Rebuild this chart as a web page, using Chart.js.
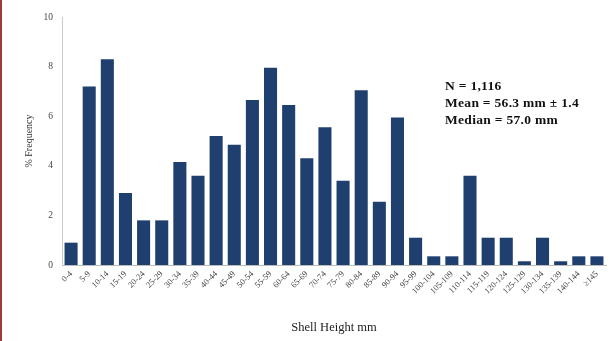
<!DOCTYPE html>
<html>
<head>
<meta charset="utf-8">
<script src="https://cdn.jsdelivr.net/npm/chart.js@4"></script>
<style>
  html, body { margin: 0; padding: 0; background: #fff; }
  body { width: 613px; height: 341px; position: relative; overflow: hidden; }
  .edge { position: absolute; left: 0; top: 0; width: 2px; height: 341px; background: #9e3a3a; }
  #wrap { position: absolute; left: 0; top: 0; width: 613px; height: 341px; }
  .stats {
    position: absolute; left: 445px; top: 77px;
    font: bold 13.5px "Liberation Serif", serif; color: #111; line-height: 17px;
    letter-spacing: 0.3px;
  }
</style>
</head>
<body>
<div class="edge"></div>
<div id="wrap"><canvas id="shellChart" width="613" height="341"></canvas></div>
<div class="stats">N = 1,116<br>Mean = 56.3 mm ± 1.4<br>Median = 57.0 mm</div>
<script>
// shell height classes (mm)
const heightClasses = [
  '0-4', '5-9', '10-14', '15-19', '20-24', '25-29', '30-34', '35-39', '40-44', '45-49',
  '50-54', '55-59', '60-64', '65-69', '70-74', '75-79', '80-84', '85-89', '90-94', '95-99',
  '100-104', '105-109', '110-114', '115-119', '120-124', '125-129', '130-134', '135-139', '140-144', '≥145'
];
// % frequency per class
const frequency = [
  0.9, 7.2, 8.3, 2.9, 1.8, 1.8, 4.15, 3.6, 5.2, 4.85,
  6.65, 7.95, 6.45, 4.3, 5.55, 3.4, 7.05, 2.55, 5.95, 1.1,
  0.35, 0.35, 3.6, 1.1, 1.1, 0.15, 1.1, 0.15, 0.35, 0.35
];
const yTicks = [0, 2, 4, 6, 8, 10];

const serif = '"Liberation Serif", "Times New Roman", serif';

new Chart('shellChart', {
  type: 'bar',
  data: {
    labels: heightClasses,
    datasets: [{
      data: frequency,
      backgroundColor: '#1f3f6e',
      categoryPercentage: 1,
      barPercentage: 0.72
    }]
  },
  options: {
    responsive: false,
    animation: false,
    layout: { padding: { left: 20, right: 7, top: 17, bottom: 6 } },
    plugins: { legend: { display: false }, tooltip: { enabled: false } },
    scales: {
      x: {
        grid: { display: false, drawTicks: true, tickLength: 4 },
        border: { color: '#bbb' },
        ticks: {
          color: '#444', font: { family: serif, size: 8.5 },
          maxRotation: 45, minRotation: 45, autoSkip: false, padding: 0
        },
        title: { display: true, text: 'Shell Height mm', color: '#222', font: { family: serif, size: 12.5 }, padding: 0 },
        afterFit: (s) => { s.height = 70; }
      },
      y: {
        min: 0, max: 10,
        afterBuildTicks: (s) => { s.ticks = yTicks.map(v => ({ value: v })); },
        grid: { display: false, drawTicks: true, tickLength: 3 },
        border: { color: '#ccc' },
        ticks: { color: '#444', font: { family: serif, size: 9.5 }, padding: 6 },
        title: { display: true, text: '% Frequency', color: '#333', font: { family: serif, size: 10 }, padding: 3 },
        afterFit: (s) => { s.width = 42; }
      }
    }
  }
});
</script>
</body>
</html>
